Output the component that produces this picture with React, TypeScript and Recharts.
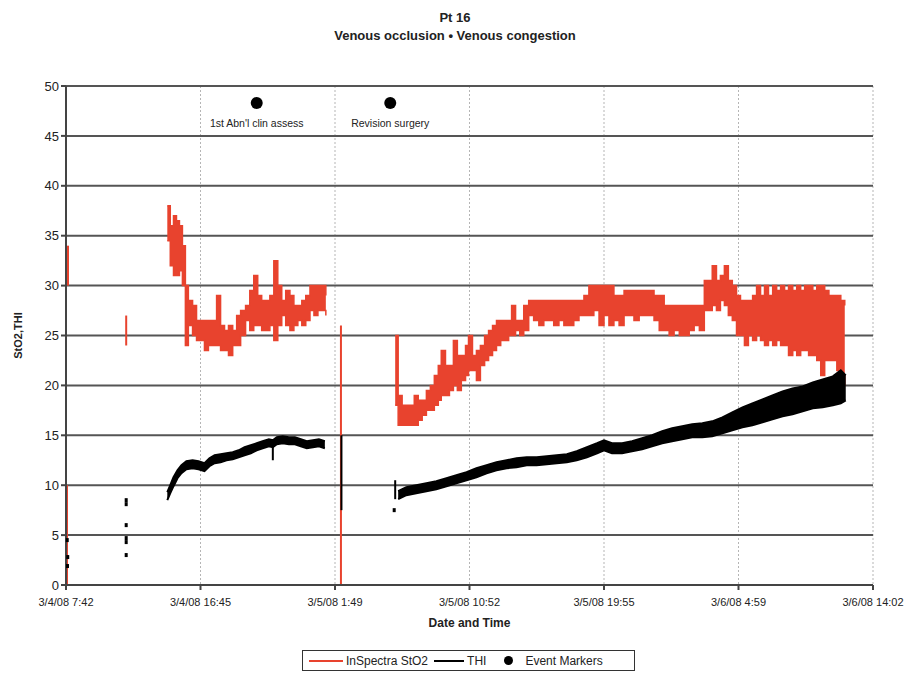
import { Area, CartesianGrid, ComposedChart, LabelList, Line, Scatter, XAxis, YAxis } from "recharts";

// x values are minutes since 3/4/08 7:42
const timeTicks = [0, 543, 1086, 1629, 2172, 2715, 3258];
const timeLabels = ["3/4/08 7:42", "3/4/08 16:45", "3/5/08 1:49", "3/5/08 10:52", "3/5/08 19:55", "3/6/08 4:59", "3/6/08 14:02"];
const yTicks = [0, 5, 10, 15, 20, 25, 30, 35, 40, 45, 50];

// InSpectra StO2, first block (min / max envelope)
const sto2T1 = [409, 421, 434, 446, 458, 470, 482, 494, 511, 527, 543, 559, 575, 592, 608, 624, 640, 656, 673, 689, 705, 725, 742, 758, 774, 790, 806, 823, 839, 855, 871, 887, 904, 920, 936, 952, 968, 985, 1001, 1017, 1033, 1049];
const sto2Hi1 = [38, 36, 37, 36.5, 36, 34, 30, 28.5, 28, 26.5, 26.5, 26.5, 26.5, 26.5, 29, 26, 25.5, 26, 25.5, 27, 27.5, 28, 29.5, 31, 29, 28.5, 28.5, 29, 32.5, 30, 28.5, 29.5, 29, 28, 28, 28.5, 29, 30, 30, 30, 30, 29];
const sto2Lo1 = [34.5, 32, 31, 31, 31.5, 30, 24, 26, 25, 24.5, 24.5, 23.5, 24, 24, 24, 23.5, 23.5, 23, 24, 24, 25, 26.5, 25.5, 26, 26, 25.5, 25.5, 26, 24.5, 26, 27, 26, 25.5, 26, 26.5, 26, 26.5, 27.5, 27, 27.5, 27.5, 27];

// InSpectra StO2, second block
const sto2T2 = [1329, 1341, 1357, 1374, 1390, 1406, 1422, 1438, 1455, 1471, 1487, 1503, 1515, 1532, 1548, 1564, 1580, 1596, 1613, 1625, 1641, 1657, 1673, 1690, 1706, 1722, 1738, 1755, 1771, 1787, 1799, 1815, 1832, 1848, 1868, 1888, 1909, 1929, 1949, 1969, 1990, 2010, 2030, 2050, 2071, 2091, 2111, 2131, 2152, 2172, 2192, 2212, 2233, 2253, 2273, 2293, 2314, 2334, 2354, 2374, 2395, 2415, 2435, 2455, 2476, 2496, 2516, 2536, 2557, 2577, 2593, 2609, 2626, 2642, 2658, 2674, 2690, 2707, 2723, 2739, 2755, 2772, 2788, 2804, 2820, 2836, 2853, 2869, 2885, 2901, 2917, 2934, 2950, 2966, 2982, 2998, 3015, 3031, 3047, 3063, 3080, 3096, 3112, 3128, 3144];
const sto2Hi2 = [25, 19, 18, 18, 18, 19, 18.5, 18.5, 19.5, 20, 21, 22, 23.5, 22, 22, 24.5, 23, 23, 24, 25, 23, 23.5, 24, 25, 25.5, 26, 26.5, 26.5, 26.5, 26.5, 28, 26.5, 26.5, 28, 28.5, 28.5, 28.5, 28.5, 28.5, 28.5, 28.5, 28.5, 28.5, 28.5, 28.5, 29, 30, 30, 30, 30, 30, 29, 29, 29.5, 29.5, 29.5, 29.5, 29.5, 29.5, 29, 29, 28, 28, 28, 28, 28, 28, 28, 28, 30.5, 30.5, 32, 30.5, 31, 32, 30.5, 30, 29, 28.5, 28.5, 28.5, 29, 30, 29, 30, 29, 30, 29.5, 30, 29.5, 30, 29.5, 30, 29.5, 30, 30, 29.5, 30, 30, 29.5, 29, 29, 29, 28.5, 28];
const sto2Lo2 = [18, 16, 16, 16, 16, 16, 16.5, 17, 17.5, 17.5, 18, 18.5, 19, 19, 19.5, 20, 19.5, 20.5, 21, 21.5, 21.5, 20.5, 22, 22.5, 23, 23.5, 24, 24.5, 24.5, 25, 25, 25.5, 25, 25.5, 27, 26.5, 26, 26.5, 26.5, 26, 26.5, 26, 26, 26.5, 27, 27, 27, 27.5, 26, 27, 26, 26.5, 26, 27, 27, 26.5, 27, 27, 27, 26.5, 25.5, 25.5, 25, 25.5, 25, 25, 25.5, 26, 25.5, 27.5, 27.5, 28, 27.5, 28.5, 28, 27, 26.5, 25, 25, 24, 25, 24.5, 25, 24.5, 24, 24.5, 24, 24.5, 24, 24, 23, 23.5, 23, 23.5, 23.5, 23, 23, 22.5, 21, 22.5, 22.5, 22.5, 21.5, 21, 20];

// THI, first block
const thiT1 = [409, 421, 434, 450, 466, 486, 511, 535, 559, 579, 600, 624, 648, 673, 697, 721, 746, 770, 794, 819, 835, 851, 875, 900, 924, 948, 972, 997, 1021, 1045];
const thiLo1 = [8.5, 9.2, 9.9, 10.7, 11.2, 11.6, 11.7, 11.6, 11.4, 11.9, 12.2, 12.3, 12.5, 12.6, 12.8, 13.0, 13.2, 13.5, 13.7, 13.9, 13.8, 14.1, 14.2, 14.1, 14.1, 13.9, 13.7, 13.8, 13.9, 13.7];
const thiHi1 = [9.3, 10.0, 10.8, 11.5, 12.0, 12.4, 12.5, 12.4, 12.2, 12.7, 13.0, 13.1, 13.2, 13.3, 13.5, 13.8, 14.0, 14.2, 14.4, 14.6, 14.5, 14.8, 14.9, 14.8, 14.8, 14.6, 14.4, 14.5, 14.6, 14.4];

// THI, second block
const thiT2 = [1341, 1374, 1414, 1455, 1495, 1536, 1576, 1617, 1657, 1698, 1738, 1779, 1819, 1860, 1900, 1941, 1981, 2022, 2062, 2103, 2144, 2172, 2204, 2245, 2285, 2326, 2366, 2407, 2447, 2488, 2528, 2569, 2609, 2650, 2690, 2731, 2771, 2812, 2852, 2893, 2933, 2974, 3015, 3055, 3096, 3128, 3148];
const thiLo2 = [8.6, 9.0, 9.2, 9.4, 9.6, 9.9, 10.2, 10.5, 10.8, 11.2, 11.5, 11.7, 11.8, 12.0, 12.0, 12.1, 12.2, 12.3, 12.5, 12.8, 13.2, 13.5, 13.2, 13.2, 13.4, 13.6, 13.9, 14.2, 14.4, 14.6, 14.8, 14.8, 14.9, 15.2, 15.5, 15.8, 16.0, 16.3, 16.6, 16.9, 17.1, 17.4, 17.7, 17.8, 18.0, 18.2, 18.5];
const thiHi2 = [9.4, 9.8, 10.0, 10.2, 10.4, 10.7, 11.0, 11.3, 11.7, 12.0, 12.3, 12.5, 12.7, 12.8, 12.8, 12.9, 13.0, 13.1, 13.4, 13.8, 14.2, 14.5, 14.2, 14.2, 14.4, 14.7, 15.0, 15.4, 15.7, 15.9, 16.1, 16.2, 16.4, 16.8, 17.3, 17.8, 18.2, 18.6, 19.0, 19.4, 19.7, 19.9, 20.3, 20.6, 20.9, 21.5, 21.0];

// isolated vertical readings [t, low, high]
const sto2Spikes = [[4, 0, 10], [8, 30, 34], [243, 24, 27], [1110, 0, 26]];
const thiSpikes = [[835, 12.5, 14.2], [1112, 7.5, 15], [1329, 8.6, 10.5]];
const thiDots = [[5, 4.5], [7, 2.8], [6, 1.9], [243, 8.5], [243, 8.1], [243, 6.0], [243, 4.7], [243, 4.3], [243, 3.0], [1325, 7.5]];

const events = [
  { t: 770, v: 48.3, name: "1st Abn'l clin assess" },
  { t: 1309, v: 48.3, name: "Revision surgery" },
];

const RED = "#e8432e";
const FONT = "'Liberation Sans Narrow', 'Liberation Sans', Arial, sans-serif";

const band = (ts: number[], lo: number[], hi: number[]) => ts.map((t, i) => ({ t, r: [lo[i], hi[i]] }));
const spike = (s: number[]) => [{ t: s[0], v: s[1] }, { t: s[0], v: s[2] }];

export default function App() {
  return (
    <div style={{ position: "absolute", left: 0, top: 0, width: 906, height: 677, background: "#fff", fontFamily: FONT }}>
      <div style={{ position: "absolute", top: 9, left: 0, width: 910, textAlign: "center", fontWeight: "bold", fontSize: 13, lineHeight: "18px", color: "#222" }}>
        <div>Pt 16</div>
        <div>Venous occlusion • Venous congestion</div>
      </div>
      <ComposedChart width={906} height={677} margin={{ top: 86, right: 33, bottom: 52, left: 0 }}>
        <CartesianGrid horizontal={false} stroke="#b5b5b5" strokeDasharray="2 2" verticalValues={timeTicks} />
        <CartesianGrid vertical={false} stroke="#555" strokeWidth={2} />
        <XAxis
          dataKey="t"
          type="number"
          domain={[0, 3258]}
          ticks={timeTicks}
          interval={0}
          tickFormatter={(v) => timeLabels[timeTicks.indexOf(v)]}
          height={40}
          stroke="#444"
          strokeWidth={2}
          tick={{ fill: "#222", fontSize: 11, fontFamily: FONT }}
          tickSize={5}
          tickMargin={8}
          label={{ value: "Date and Time", position: "insideBottom", offset: -2, style: { fill: "#222", fontWeight: "bold", fontSize: 12, fontFamily: FONT } }}
        />
        <YAxis
          type="number"
          domain={[0, 50]}
          ticks={yTicks}
          interval={0}
          width={66}
          stroke="#444"
          strokeWidth={2}
          tickSize={5}
          tick={{ fill: "#222", fontSize: 13, fontFamily: FONT }}
          label={{ value: "StO2,THI", angle: -90, position: "insideLeft", offset: 18, style: { textAnchor: "middle", fill: "#222", fontWeight: "bold", fontSize: 11, fontFamily: FONT } }}
        />

        {sto2Spikes.map((s, i) => (
          <Line key={"rs" + i} data={spike(s)} dataKey="v" stroke={RED} strokeWidth={2} dot={false} activeDot={false} isAnimationActive={false} legendType="none" />
        ))}
        <Area data={band(sto2T1, sto2Lo1, sto2Hi1)} dataKey="r" type="stepAfter" stroke={RED} strokeWidth={1.5} fill={RED} fillOpacity={1} dot={false} activeDot={false} isAnimationActive={false} />
        <Area data={band(sto2T2, sto2Lo2, sto2Hi2)} dataKey="r" type="stepAfter" stroke={RED} strokeWidth={1.5} fill={RED} fillOpacity={1} dot={false} activeDot={false} isAnimationActive={false} />

        <Area data={band(thiT1, thiLo1, thiHi1)} dataKey="r" type="linear" stroke="#000" strokeWidth={2} fill="#000" fillOpacity={1} dot={false} activeDot={false} isAnimationActive={false} />
        <Area data={band(thiT2, thiLo2, thiHi2)} dataKey="r" type="linear" stroke="#000" strokeWidth={2} fill="#000" fillOpacity={1} dot={false} activeDot={false} isAnimationActive={false} />
        {thiSpikes.map((s, i) => (
          <Line key={"ks" + i} data={spike(s)} dataKey="v" stroke="#000" strokeWidth={2} dot={false} activeDot={false} isAnimationActive={false} legendType="none" />
        ))}
        <Scatter
          data={thiDots.map((d) => ({ t: d[0], v: d[1] }))}
          dataKey="v"
          isAnimationActive={false}
          shape={(p: any) => <rect x={p.cx - 1.5} y={p.cy - 2} width={3} height={4} fill="#000" />}
        />

        <Scatter
          data={events}
          dataKey="v"
          isAnimationActive={false}
          shape={(p: any) => <circle cx={p.cx} cy={p.cy} r={6} fill="#000" />}
        >
          <LabelList
            dataKey="name"
            content={(p: any) => (
              <text x={p.x + p.width / 2} y={p.y + p.height / 2 + 24} textAnchor="middle" fill="#222" fontSize={10.5} fontFamily={FONT}>
                {p.value}
              </text>
            )}
          />
        </Scatter>
      </ComposedChart>

      <div
        style={{
          position: "absolute", left: 302, top: 650, width: 333, height: 21, border: "1px solid #333",
          display: "flex", alignItems: "center", fontSize: 12, color: "#222", boxSizing: "border-box", paddingLeft: 6,
        }}
      >
        <span style={{ display: "inline-block", width: 34, height: 2, background: RED, marginRight: 3 }} />
        <span>InSpectra StO2</span>
        <span style={{ display: "inline-block", width: 30, height: 2, background: "#000", margin: "0 3px 0 6px" }} />
        <span>THI</span>
        <span style={{ display: "inline-block", width: 9, height: 9, borderRadius: 5, background: "#000", margin: "0 12px 0 18px" }} />
        <span>Event Markers</span>
      </div>
    </div>
  );
}
